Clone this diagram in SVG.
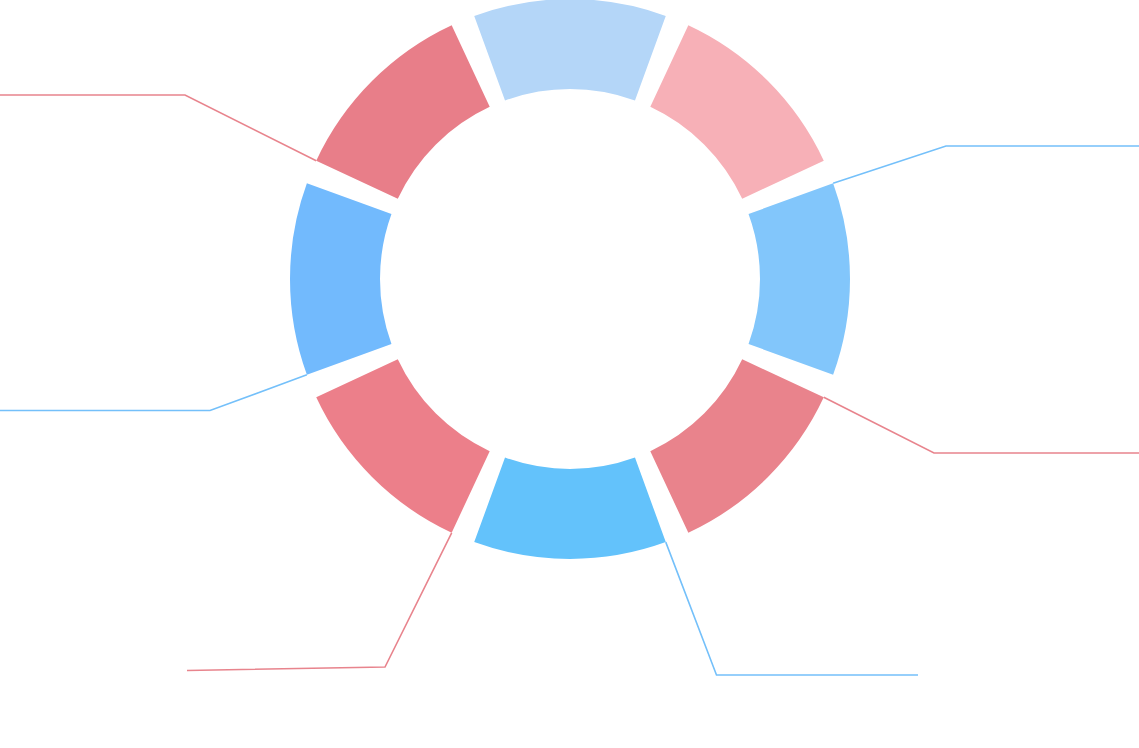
<svg xmlns="http://www.w3.org/2000/svg" width="1139" height="748" viewBox="0 0 1139 748">
<style>
.lead{fill:none;stroke-width:1.6;stroke-linejoin:miter}
.red{stroke:#e8848d}
.blue{stroke:#74c0fa}
</style>
<rect width="1139" height="748" fill="#ffffff"/>
<g id="connectors">
<polyline class="lead red" points="316.23,160.67 185,95 0,95"/>
<polyline class="lead blue" points="833.11,183.23 946,146 1139,146"/>
<polyline class="lead red" points="823.77,397.33 934,453 1139,453"/>
<polyline class="lead blue" points="665.77,542.11 716.5,675 918,675"/>
<polyline class="lead red" points="451.67,532.77 385,667 187,670.5"/>
<polyline class="lead blue" points="306.89,374.77 210,410.5 0,410.5"/>
</g>
<g id="seg-top"><path fill="#b4d6f8" d="M474.23,15.89 A280,280 0 0 1 665.77,15.89 L634.98,100.46 A190,190 0 0 0 505.02,100.46 Z"/></g>
<g id="seg-top-right"><path fill="#f7b0b7" d="M688.33,25.23 A280,280 0 0 1 823.77,160.67 L742.20,198.70 A190,190 0 0 0 650.30,106.80 Z"/></g>
<g id="seg-right"><path fill="#82c6fb" d="M833.11,183.23 A280,280 0 0 1 833.11,374.77 L748.54,343.98 A190,190 0 0 0 748.54,214.02 Z"/></g>
<g id="seg-bottom-right"><path fill="#e9838c" d="M823.77,397.33 A280,280 0 0 1 688.33,532.77 L650.30,451.20 A190,190 0 0 0 742.20,359.30 Z"/></g>
<g id="seg-bottom"><path fill="#63c2fb" d="M665.77,542.11 A280,280 0 0 1 474.23,542.11 L505.02,457.54 A190,190 0 0 0 634.98,457.54 Z"/></g>
<g id="seg-bottom-left"><path fill="#ec7f8a" d="M451.67,532.77 A280,280 0 0 1 316.23,397.33 L397.80,359.30 A190,190 0 0 0 489.70,451.20 Z"/></g>
<g id="seg-left"><path fill="#72bafd" d="M306.89,374.77 A280,280 0 0 1 306.89,183.23 L391.46,214.02 A190,190 0 0 0 391.46,343.98 Z"/></g>
<g id="seg-top-left"><path fill="#e87e89" d="M316.23,160.67 A280,280 0 0 1 451.67,25.23 L489.70,106.80 A190,190 0 0 0 397.80,198.70 Z"/></g>
</svg>
